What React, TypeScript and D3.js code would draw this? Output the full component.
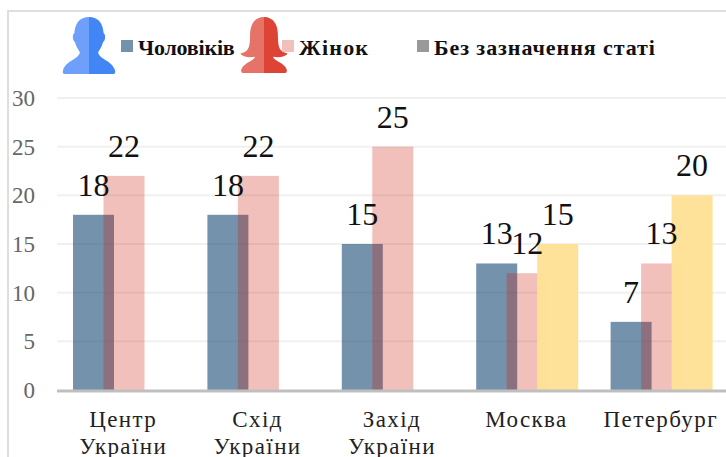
import React from "react";
import * as d3 from "d3";

const categories: string[][] = [["Центр", "України"], ["Схід", "України"], ["Захід", "України"], ["Москва"], ["Петербург"]];
const men: (number | null)[] = [18, 18, 15, 13, 7];
const women: (number | null)[] = [22, 22, 25, 12, 13];
const unspecified: (number | null)[] = [null, null, null, 15, 20];
const yTicks = [0, 5, 10, 15, 20, 25, 30];

const W = 726, H = 457;
const x = d3.scaleBand<number>().domain(d3.range(categories.length)).range([57, 729]);
const y = d3.scaleLinear().domain([0, 30]).range([390, 98]);
const barW = 41, off = 30.5;
const SERIF = "'Liberation Serif', serif";

const series = [
  { vals: men, idx: 0, fill: "#194976", op: 0.6 },
  { vals: women, idx: 1, fill: "#cf1600", op: 0.27 },
  { vals: unspecified, idx: 2, fill: "#ffe196", op: 0.97 },
];

function Person({ x0, y0, w, h, a, b, female }: any) {
  const s = `translate(${x0},${y0}) scale(${w / 100},${h / 100})`;
  const male = "M50 0C33 0 24 11 23 28C19 30 19 41 24 44C26 52 30 57 33 62C32 74 8 76 2 93Q0 100 5 100L50 100Z";
  const fem = "M50 0C30 0 21 14 21 32C21 45 20 55 14 60C10 64 5 64 1 65C5 71 20 73 31 71C31 78 10 80 3 93Q1 100 6 100L50 100Z";
  const d = female ? fem : male;
  return (
    <g transform={s}>
      <path d={d} fill={a} />
      <path d={d} fill={b} transform="translate(100,0) scale(-1,1)" />
    </g>
  );
}

export default function App() {
  return (
    <svg width={W} height={H} style={{ position: "absolute", left: 0, top: 0, display: "block" }} fontFamily={SERIF}>
      <rect width={W} height={H} fill="#fff" />
      <path d="M8 457V11H726" fill="none" stroke="#dedede" strokeWidth={2} />
      {yTicks.filter((t) => t > 0).map((t) => (
        <line key={t} x1={57} x2={726} y1={y(t)} y2={y(t)} stroke="#f0f0f0" strokeWidth={2} />
      ))}
      {series.map((s) =>
        s.vals.map((v, i) =>
          v == null ? null : (
            <rect key={s.idx + "-" + i} x={x(i)! + 16 + s.idx * off} y={y(v)} width={barW} height={y(0) - y(v)} fill={s.fill} fillOpacity={s.op} />
          )
        )
      )}
      <line x1={57} x2={726} y1={y(0) + 1} y2={y(0) + 1} stroke="#bfbfbf" strokeWidth={3} />
      {yTicks.map((t) => (
        <text key={t} x={35} y={y(t) + 8} fontSize={23} fill="#666" textAnchor="end">{t}</text>
      ))}
      {series.map((s) =>
        s.vals.map((v, i) =>
          v == null ? null : (
            <text key={s.idx + "-" + i} x={x(i)! + 16 + s.idx * off + barW / 2} y={y(v) - 19} fontSize={32} fill="#111" textAnchor="middle">{v}</text>
          )
        )
      )}
      {categories.map((lines, i) =>
        lines.map((l, j) => (
          <text key={l + i} x={x(i)! + x.bandwidth() / 2 - 1} y={427 + j * 27} fontSize={23} letterSpacing={1.4} fill="#222" textAnchor="middle">{l}</text>
        ))
      )}
      <Person x0={62} y0={17} w={54} h={57} a="#6ea0fb" b="#4285f4" />
      <Person x0={240} y0={17} w={48} h={56} a="#e57368" b="#dd4436" female />
      <rect x={121} y={40} width={12} height={12} fill="#7592ad" />
      <rect x={282} y={40} width={12} height={12} fill="#f2c0ba" />
      <rect x={417} y={40} width={12} height={12} fill="#999" />
      <g fontSize={22} fontWeight="bold" fill="#111">
        <text x={138} y={55} letterSpacing={-0.2}>Чоловіків</text>
        <text x={299} y={55} letterSpacing={1.2}>Жінок</text>
        <text x={434} y={55} letterSpacing={0.93}>Без зазначення статі</text>
      </g>
    </svg>
  );
}
